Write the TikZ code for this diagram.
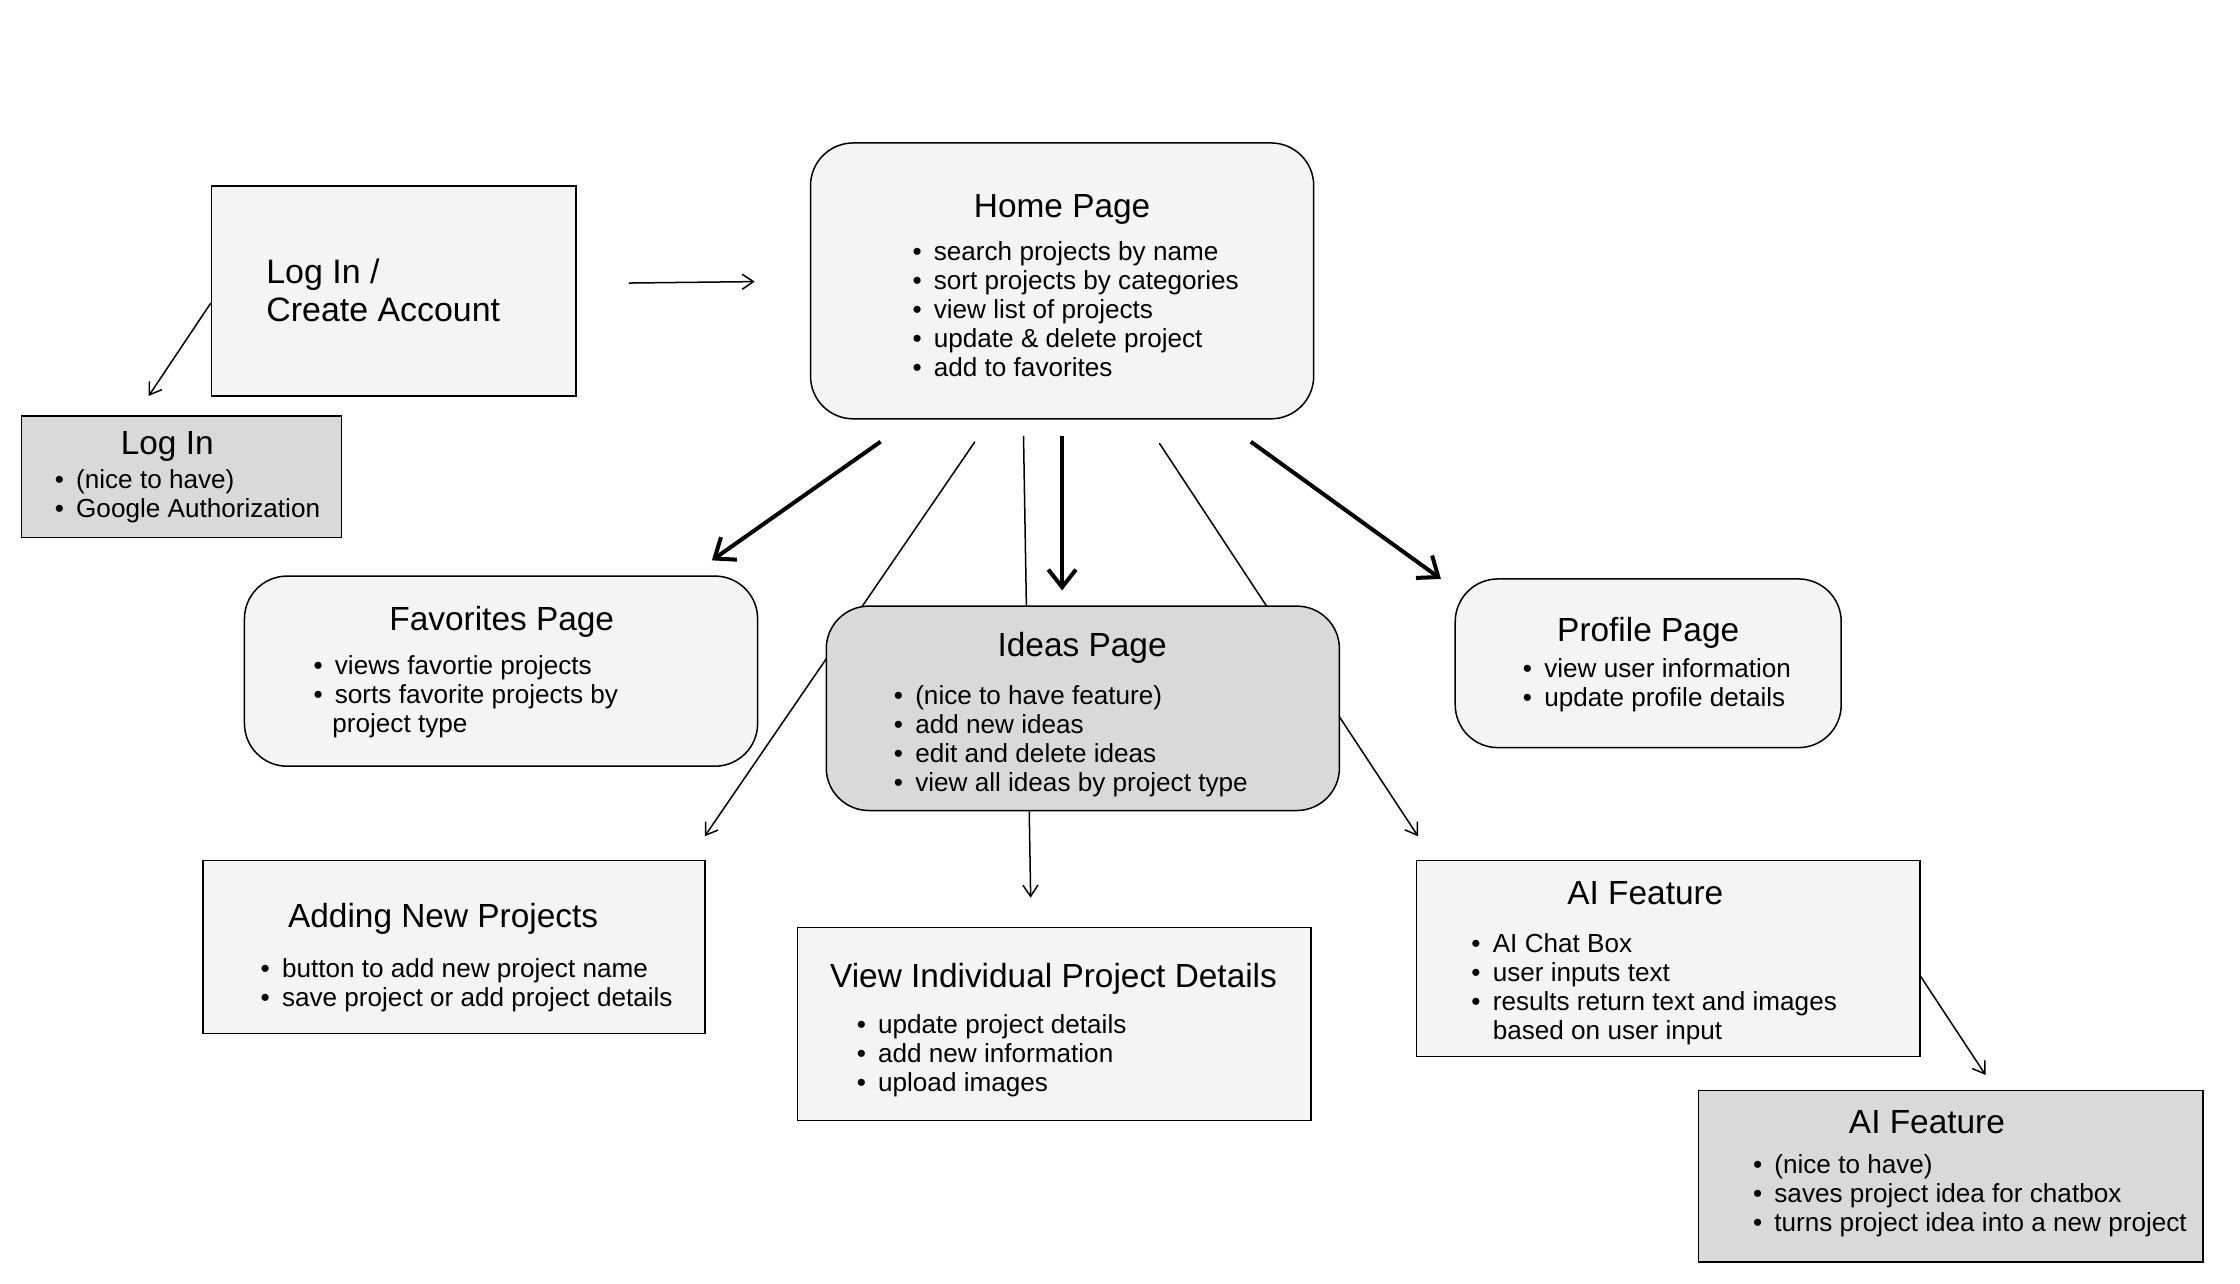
\documentclass[tikz,border=0pt]{standalone}
\usepackage{fontspec}
\setmainfont{Liberation Sans}
\usetikzlibrary{arrows.meta,fit,backgrounds}

\definecolor{boxfill}{HTML}{F4F4F4}
\definecolor{nicefill}{HTML}{D9D9D9}
\newcommand{\itm}{\makebox[8.5pt][l]{\textbullet}}

\tikzset{
  box/.style={draw, fill=boxfill, line width=0.6pt, inner sep=0pt},
  roundbox/.style={box, rounded corners=17pt},
  title/.style={anchor=base, inner sep=0pt, font=\fontsize{13.3}{16}\selectfont},
  items/.style={anchor=base west, inner sep=0pt, font=\fontsize{10.4}{11.55}\selectfont},
  thinarrow/.style={-{Straight Barb[length=4.5pt,width=6pt]}, line width=0.6pt},
  thickarrow/.style={-{Straight Barb[length=7pt,width=11pt]}, line width=1.6pt},
}

\begin{document}
\begin{tikzpicture}[x=0.02cm, y=-0.02cm]
  \useasboundingbox (0,0) rectangle (1567,898);

  % log in
  \node[box, fit={(148,130) (403,277)}] (account) {};
  \node[anchor=base west, inner sep=0pt, font=\fontsize{13.5}{15.4}\selectfont] (accountt) at (186,198)
    {\begin{tabular}[t]{@{}l@{}}Log In /\\ Create Account\end{tabular}};

  \node[box, fill=nicefill, fit={(15,291) (239,376)}] (login) {};
  \node[title] (logint) at (117,318) {Log In};
  \node[items] (loginl) at (38,342) {\begin{tabular}[t]{@{}l@{}}
    \itm (nice to have)\\ \itm Google Authorization\end{tabular}};

  % home
  \node[roundbox, fit={(567,100) (919,293)}] (home) {};
  \node[title] (homet) at (743,152) {Home Page};
  \node[items] (homel) at (638,182) {\begin{tabular}[t]{@{}l@{}}
    \itm search projects by name\\ \itm sort projects by categories\\
    \itm view list of projects\\ \itm update \& delete project\\
    \itm add to favorites\end{tabular}};

  % pages
  \node[roundbox, fit={(171,403) (530,536)}] (fav) {};
  \node[title] (favt) at (351,441) {Favorites Page};
  \node[items] (favl) at (219,472) {\begin{tabular}[t]{@{}l@{}}
    \itm views favortie projects\\ \itm sorts favorite projects by\\
    \hspace{7.5pt}project type\end{tabular}};

  \node[roundbox, fill=nicefill, fit={(578,424) (937,567)}] (ideas) {};
  \node[title] (ideast) at (757,459) {Ideas Page};
  \node[items] (ideasl) at (625,493) {\begin{tabular}[t]{@{}l@{}}
    \itm (nice to have feature)\\ \itm add new ideas\\
    \itm edit and delete ideas\\ \itm view all ideas by project type\end{tabular}};

  \node[roundbox, fit={(1018,405) (1288,523)}] (profile) {};
  \node[title] (profilet) at (1153,449) {Profile Page};
  \node[items] (profilel) at (1065,474) {\begin{tabular}[t]{@{}l@{}}
    \itm view user information\\ \itm update profile details\end{tabular}};

  % lower row
  \node[box, fit={(142,602) (493,723)}] (adding) {};
  \node[title] (addingt) at (310,649) {Adding New Projects};
  \node[items] (addingl) at (182,684) {\begin{tabular}[t]{@{}l@{}}
    \itm button to add new project name\\ \itm save project or add project details\end{tabular}};

  \node[box, fit={(558,649) (917,784)}] (details) {};
  \node[title] (detailst) at (737,691) {View Individual Project Details};
  \node[items] (detailsl) at (599,723) {\begin{tabular}[t]{@{}l@{}}
    \itm update project details\\ \itm add new information\\
    \itm upload images\end{tabular}};

  \node[box, fit={(991,602) (1343,739)}] (ai) {};
  \node[title] (ait) at (1151,633) {AI Feature};
  \node[items] (ail) at (1029,666) {\begin{tabular}[t]{@{}l@{}}
    \itm AI Chat Box\\ \itm user inputs text\\
    \itm results return text and images\\ \hspace{8.5pt}based on user input\end{tabular}};

  \node[box, fill=nicefill, fit={(1188,763) (1541,883)}] (aisave) {};
  \node[title] (aisavet) at (1348,793) {AI Feature};
  \node[items] (aisavel) at (1226,821) {\begin{tabular}[t]{@{}l@{}}
    \itm (nice to have)\\ \itm saves project idea for chatbox\\
    \itm turns project idea into a new project\end{tabular}};

  % arrows
  \coordinate (toHome) at (440,198);
  \coordinate (toHomeEnd) at (528,197);
  \coordinate (toLogin) at (104,277);
  \draw[thinarrow] (toHome) -- (toHomeEnd);
  \draw[thinarrow] (account.west |- 0,212) -- (toLogin);

  \coordinate (favS) at (616,309);
  \coordinate (favE) at (498,392);
  \coordinate (ideasS) at (743,305);
  \coordinate (ideasE) at (743,413);
  \coordinate (profS) at (875,309);
  \coordinate (profE) at (1008,405);
  \draw[thickarrow] (favS) -- (favE);
  \draw[thickarrow] (ideasS) -- (ideasE);
  \draw[thickarrow] (profS) -- (profE);

  \coordinate (addS) at (682,309);
  \coordinate (addE) at (493,585);
  \coordinate (lineS) at (716,305);
  \coordinate (aiS) at (811,310);
  \coordinate (aiE) at (992,585);
  \begin{scope}[on background layer]
    \draw[thinarrow] (addS) -- (addE);
    \draw[thinarrow] (aiS) -- (aiE);
  \end{scope}
  \draw[line width=0.6pt] (lineS) -- (ideas.north -| 718,0);

  \coordinate (detailsE) at (721,628);
  \coordinate (aisaveE) at (1389,752);
  \draw[thinarrow] (ideas.south -| 720,0) -- (detailsE);
  \draw[thinarrow] (ai.east |- 0,683) -- (aisaveE);
\end{tikzpicture}
\end{document}
